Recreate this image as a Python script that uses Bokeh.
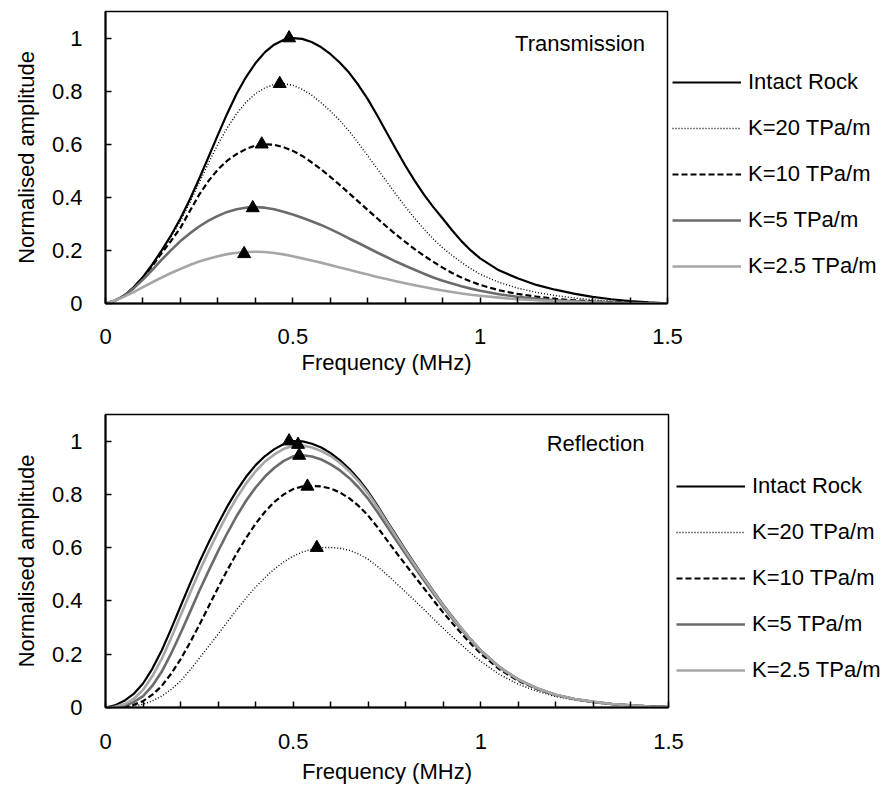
from bokeh.plotting import figure
from bokeh.layouts import column
from bokeh.models import Legend, LegendItem, FixedTicker, Label, Range1d, NumeralTickFormatter
from bokeh.embed import file_html
from bokeh.resources import INLINE

# ---------------- data ----------------
freq = [0.000, 0.025, 0.050, 0.075, 0.100, 0.125, 0.150, 0.175, 0.200, 0.225,
        0.250, 0.275, 0.300, 0.325, 0.350, 0.375, 0.400, 0.425, 0.450, 0.475,
        0.500, 0.525, 0.550, 0.575, 0.600, 0.625, 0.650, 0.675, 0.700, 0.725,
        0.750, 0.775, 0.800, 0.825, 0.850, 0.875, 0.900, 0.925, 0.950, 0.975,
        1.000, 1.05, 1.10, 1.15, 1.20, 1.25, 1.30, 1.35, 1.40, 1.45, 1.50]

series_names = ["Intact Rock", "K=20 TPa/m", "K=10 TPa/m", "K=5 TPa/m", "K=2.5 TPa/m"]

# Transmission
t_intact = [0, 0.01, 0.03, 0.061, 0.10, 0.147, 0.20, 0.257, 0.32, 0.392,
            0.47, 0.552, 0.635, 0.716, 0.79, 0.853, 0.905, 0.946, 0.975, 0.993,
            1.0, 0.997, 0.985, 0.966, 0.94, 0.908, 0.87, 0.823, 0.77, 0.709,
            0.645, 0.582, 0.52, 0.463, 0.41, 0.363, 0.32, 0.276, 0.235, 0.2,
            0.17, 0.125, 0.095, 0.07, 0.052, 0.037, 0.025, 0.016, 0.009, 0.004, 0.001]
t_k20 = [0, 0.011, 0.03, 0.06, 0.099, 0.146, 0.198, 0.251, 0.31, 0.38,
         0.455, 0.529, 0.60, 0.662, 0.715, 0.758, 0.79, 0.812, 0.825, 0.828,
         0.822, 0.807, 0.785, 0.757, 0.725, 0.69, 0.65, 0.604, 0.556, 0.508,
         0.46, 0.412, 0.365, 0.321, 0.28, 0.243, 0.21, 0.181, 0.155, 0.131,
         0.11, 0.08, 0.058, 0.042, 0.03, 0.021, 0.014, 0.009, 0.005, 0.003, 0.001]
t_k10 = [0, 0.011, 0.03, 0.06, 0.097, 0.142, 0.19, 0.236, 0.285, 0.348,
         0.41, 0.462, 0.505, 0.538, 0.563, 0.582, 0.595, 0.6, 0.598, 0.589,
         0.575, 0.556, 0.532, 0.506, 0.477, 0.447, 0.415, 0.384, 0.352, 0.321,
         0.29, 0.26, 0.232, 0.205, 0.18, 0.157, 0.135, 0.115, 0.098, 0.083,
         0.07, 0.05, 0.036, 0.026, 0.018, 0.012, 0.008, 0.005, 0.003, 0.002, 0.001]
t_k5 = [0, 0.011, 0.029, 0.057, 0.09, 0.127, 0.165, 0.201, 0.235, 0.264,
        0.29, 0.312, 0.33, 0.345, 0.355, 0.361, 0.363, 0.361, 0.355, 0.346,
        0.335, 0.323, 0.31, 0.296, 0.28, 0.263, 0.245, 0.228, 0.21, 0.192,
        0.175, 0.158, 0.142, 0.127, 0.112, 0.098, 0.086, 0.075, 0.065, 0.056,
        0.048, 0.035, 0.025, 0.018, 0.012, 0.008, 0.005, 0.003, 0.002, 0.001, 0.0]
t_k25 = [0, 0.011, 0.026, 0.043, 0.062, 0.08, 0.098, 0.115, 0.13, 0.145,
         0.158, 0.169, 0.178, 0.186, 0.191, 0.194, 0.195, 0.194, 0.19, 0.185,
         0.178, 0.17, 0.162, 0.154, 0.145, 0.136, 0.127, 0.118, 0.109, 0.1,
         0.092, 0.084, 0.076, 0.069, 0.062, 0.055, 0.049, 0.043, 0.038, 0.033,
         0.029, 0.022, 0.016, 0.012, 0.008, 0.006, 0.004, 0.002, 0.001, 0.001, 0.0]
t_peak_x = [0.49, 0.465, 0.417, 0.393, 0.37]
t_peak_y = [1.0, 0.828, 0.60, 0.36, 0.187]

# Reflection
r_intact = [0, 0.008, 0.025, 0.051, 0.09, 0.146, 0.215, 0.295, 0.38, 0.464,
            0.545, 0.62, 0.69, 0.756, 0.815, 0.867, 0.91, 0.944, 0.97, 0.989,
            1.0, 0.999, 0.99, 0.976, 0.955, 0.928, 0.895, 0.856, 0.81, 0.757,
            0.70, 0.645, 0.59, 0.537, 0.485, 0.434, 0.385, 0.339, 0.295, 0.253,
            0.215, 0.152, 0.105, 0.072, 0.048, 0.032, 0.021, 0.013, 0.008, 0.004, 0.002]
r_k20 = [0, 0.0, 0.002, 0.005, 0.012, 0.025, 0.043, 0.068, 0.099, 0.14,
         0.185, 0.23, 0.275, 0.322, 0.368, 0.412, 0.452, 0.488, 0.52, 0.547,
         0.568, 0.584, 0.594, 0.6, 0.601, 0.598, 0.59, 0.576, 0.556, 0.529,
         0.498, 0.466, 0.433, 0.4, 0.366, 0.331, 0.297, 0.264, 0.233, 0.202,
         0.173, 0.124, 0.087, 0.061, 0.041, 0.028, 0.018, 0.011, 0.007, 0.004, 0.002]
r_k10 = [0, 0.0, 0.003, 0.01, 0.024, 0.048, 0.081, 0.127, 0.181, 0.243,
         0.31, 0.38, 0.45, 0.517, 0.58, 0.638, 0.69, 0.735, 0.772, 0.8,
         0.82, 0.83, 0.832, 0.83, 0.822, 0.807, 0.785, 0.756, 0.72, 0.676,
         0.628, 0.581, 0.535, 0.49, 0.445, 0.4, 0.356, 0.315, 0.275, 0.237,
         0.202, 0.143, 0.1, 0.069, 0.046, 0.031, 0.02, 0.013, 0.008, 0.004, 0.002]
r_k5 = [0, 0.001, 0.007, 0.02, 0.043, 0.082, 0.135, 0.203, 0.279, 0.358,
        0.438, 0.514, 0.587, 0.656, 0.72, 0.777, 0.826, 0.867, 0.9, 0.926,
        0.943, 0.947, 0.942, 0.931, 0.913, 0.89, 0.861, 0.825, 0.783, 0.733,
        0.68, 0.627, 0.575, 0.524, 0.474, 0.425, 0.377, 0.332, 0.29, 0.249,
        0.211, 0.15, 0.104, 0.071, 0.047, 0.032, 0.021, 0.013, 0.008, 0.004, 0.002]
r_k25 = [0, 0.003, 0.012, 0.032, 0.066, 0.118, 0.183, 0.261, 0.345, 0.429,
         0.511, 0.587, 0.659, 0.727, 0.788, 0.842, 0.887, 0.923, 0.95, 0.971,
         0.983, 0.984, 0.976, 0.963, 0.944, 0.918, 0.886, 0.848, 0.803, 0.751,
         0.695, 0.64, 0.586, 0.533, 0.482, 0.432, 0.383, 0.337, 0.294, 0.252,
         0.214, 0.151, 0.105, 0.072, 0.048, 0.032, 0.021, 0.013, 0.008, 0.004, 0.002]
r_peak_x = [0.489, 0.563, 0.538, 0.516, 0.513]
r_peak_y = [1.0, 0.60, 0.83, 0.946, 0.987]

x_ticks = [0, 0.5, 1, 1.5]
x_minor = [0.1, 0.2, 0.3, 0.4, 0.6, 0.7, 0.8, 0.9, 1.1, 1.2, 1.3, 1.4]
y_ticks = [0, 0.2, 0.4, 0.6, 0.8, 1.0]

x_title = "Frequency (MHz)"
y_title = "Normalised amplitude"

# ---------------- styling ----------------
FONT = "Liberation Sans"
FS = "22px"
styles = [
    dict(line_color="black", line_width=2.2, line_dash="solid"),
    dict(line_color="black", line_width=1.4, line_dash="1 2"),
    dict(line_color="black", line_width=2.2, line_dash="6 3"),
    dict(line_color="#6b6b6b", line_width=2.6, line_dash="solid"),
    dict(line_color="#a6a6a6", line_width=2.6, line_dash="solid"),
]


def make_panel(curves, px, py, tag, bl, bt, fw, fh, bb, legend_xy, tag_xy,
               xl_std, xt_std):
    p = figure(frame_width=fw, frame_height=fh,
               min_border_left=bl, min_border_right=886 - bl - fw,
               min_border_top=bt, min_border_bottom=bb,
               x_range=Range1d(0, 1.5), y_range=Range1d(0, 1.1),
               output_backend="svg", toolbar_location=None,
               background_fill_color="white", border_fill_color="white")
    p.xgrid.visible = False
    p.ygrid.visible = False
    p.outline_line_color = "black"
    p.outline_line_width = 1.5
    p.outline_line_alpha = 1.0

    items = []
    for name, ys, st in zip(series_names, curves, styles):
        r = p.line(freq, ys, line_join="round", **st)
        items.append(LegendItem(label=name, renderers=[r]))
    p.scatter(px, py, marker="triangle", size=13, fill_color="black", line_color="black")

    for ax in (p.xaxis[0], p.yaxis[0]):
        ax.axis_line_color = "black"
        ax.axis_line_width = 2
        ax.major_tick_line_color = "black"
        ax.major_tick_line_width = 1.5
        ax.major_tick_in = 6
        ax.major_tick_out = 0
        ax.major_label_text_font = FONT
        ax.major_label_text_font_size = FS
        ax.major_label_text_color = "black"
        ax.axis_label_text_font = FONT
        ax.axis_label_text_font_size = FS
        ax.axis_label_text_font_style = "normal"
        ax.axis_label_text_color = "black"
        ax.formatter = NumeralTickFormatter(format="0.[0]")
    p.xaxis[0].ticker = FixedTicker(ticks=x_ticks, minor_ticks=x_minor)
    p.xaxis[0].minor_tick_in = 6
    p.xaxis[0].minor_tick_out = 0
    p.xaxis[0].minor_tick_line_color = "black"
    p.xaxis[0].minor_tick_line_width = 1.5
    p.yaxis[0].ticker = FixedTicker(ticks=y_ticks, minor_ticks=[])
    p.xaxis[0].axis_label = x_title
    p.yaxis[0].axis_label = y_title
    p.xaxis[0].major_label_standoff = xl_std
    p.xaxis[0].axis_label_standoff = xt_std
    p.yaxis[0].major_label_standoff = 23
    p.yaxis[0].axis_label_standoff = 10

    legend = Legend(items=items, location=legend_xy,
                    label_text_font=FONT, label_text_font_size=FS,
                    label_text_color="black",
                    glyph_width=69, glyph_height=30, label_height=30,
                    label_standoff=7, spacing=16, padding=0, margin=0,
                    border_line_color=None, background_fill_alpha=0)
    p.add_layout(legend, "right")

    p.add_layout(Label(x=tag_xy[0], y=tag_xy[1], text=tag, text_align="right",
                       text_baseline="middle", text_font=FONT,
                       text_font_size=FS, text_color="black"))
    return p


p1 = make_panel([t_intact, t_k20, t_k10, t_k5, t_k25], t_peak_x, t_peak_y,
                "Transmission", bl=102, bt=11, fw=562, fh=292, bb=92,
                legend_xy=(5, 22), tag_xy=(1.44, 0.98), xl_std=25, xt_std=3)
p2 = make_panel([r_intact, r_k20, r_k10, r_k5, r_k25], r_peak_x, r_peak_y,
                "Reflection", bl=105, bt=19, fw=563, fh=293, bb=82,
                legend_xy=(8, 22), tag_xy=(1.436, 0.99), xl_std=26, xt_std=7)

layout = column(p1, p2, spacing=0)
open("out.html", "w").write(file_html(layout, INLINE))
